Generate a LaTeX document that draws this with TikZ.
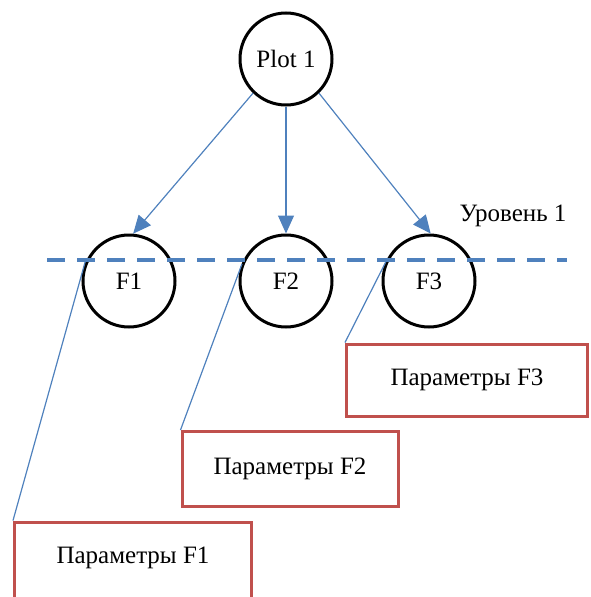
\documentclass[tikz,border=0pt]{standalone}
\usepackage{fontspec}
\setmainfont{Liberation Serif}
\usetikzlibrary{arrows.meta, positioning}
\definecolor{LevelBlue}{HTML}{4F81BD}
\definecolor{ParamRed}{HTML}{C0504D}
\tikzset{
    % Base font for all nodes
    every node/.style={font=\fontsize{25}{29}\selectfont},
    % Function circle style
    func/.style={
        circle,
        draw=black,
        line width=3pt,
        minimum size=92pt,
        inner sep=0pt
    },
    % Parameter box style
    params/.style={
        rectangle,
        draw=ParamRed,
        line width=3pt,
        fill=white,
        align=center
    },
    % Arrow style
    arrow/.style={
        -{Triangle[length=18pt, width=16pt]},
        line width=1.2pt,
        color=LevelBlue
    },
    % Callout line style
    callout/.style={
        line width=1.2pt,
        color=LevelBlue
    },
    % Level line style
    level/.style={
        line width=4pt,
        color=LevelBlue,
        dash pattern=on 18pt off 12pt
    }
}

\begin{document}
\begin{tikzpicture}[x=1pt, y=-1pt]
    \useasboundingbox (0,0) rectangle (590,597);

    % Tree of functions
    \node (plot) [func] at (286,59) {Plot 1};
    \node (f2) [func, below=127pt of plot] {F2};
    \node (f1) [func, left=62pt of f2] {F1};
    \node (f3) [func, right=48pt of f2] {F3};

    \draw [arrow] (plot.226) -- (f1.85);
    \draw [arrow] (plot.south) -- (f2.north);
    \draw [arrow] (plot.-46) -- (f3.88);

    % Level line
    \coordinate (lvlL) at (47,260);
    \coordinate (lvlR) at (567,260);
    \draw [level] (lvlL) -- (lvlR);
    \node (lvl) at (513,216) {Уровень 1};

    % Parameter boxes
    \node (p3) [params, minimum width=241pt, minimum height=72pt] at (467,380) {Параметры F3};
    \node (p2) [params, minimum width=216pt, minimum height=75pt] at (290,469) {Параметры F2};
    \node (p1) [params, minimum width=237pt, minimum height=80pt, text depth=14pt] at (133,562) {Параметры F1};

    \draw [callout, shorten >=-4pt] (p1.north west) -- (f1.160);
    \draw [callout, shorten >=-6pt] (p2.north west) -- (f2.166);
    \draw [callout, shorten >=-3pt] (p3.north west) -- (f3.160);
\end{tikzpicture}
\end{document}
